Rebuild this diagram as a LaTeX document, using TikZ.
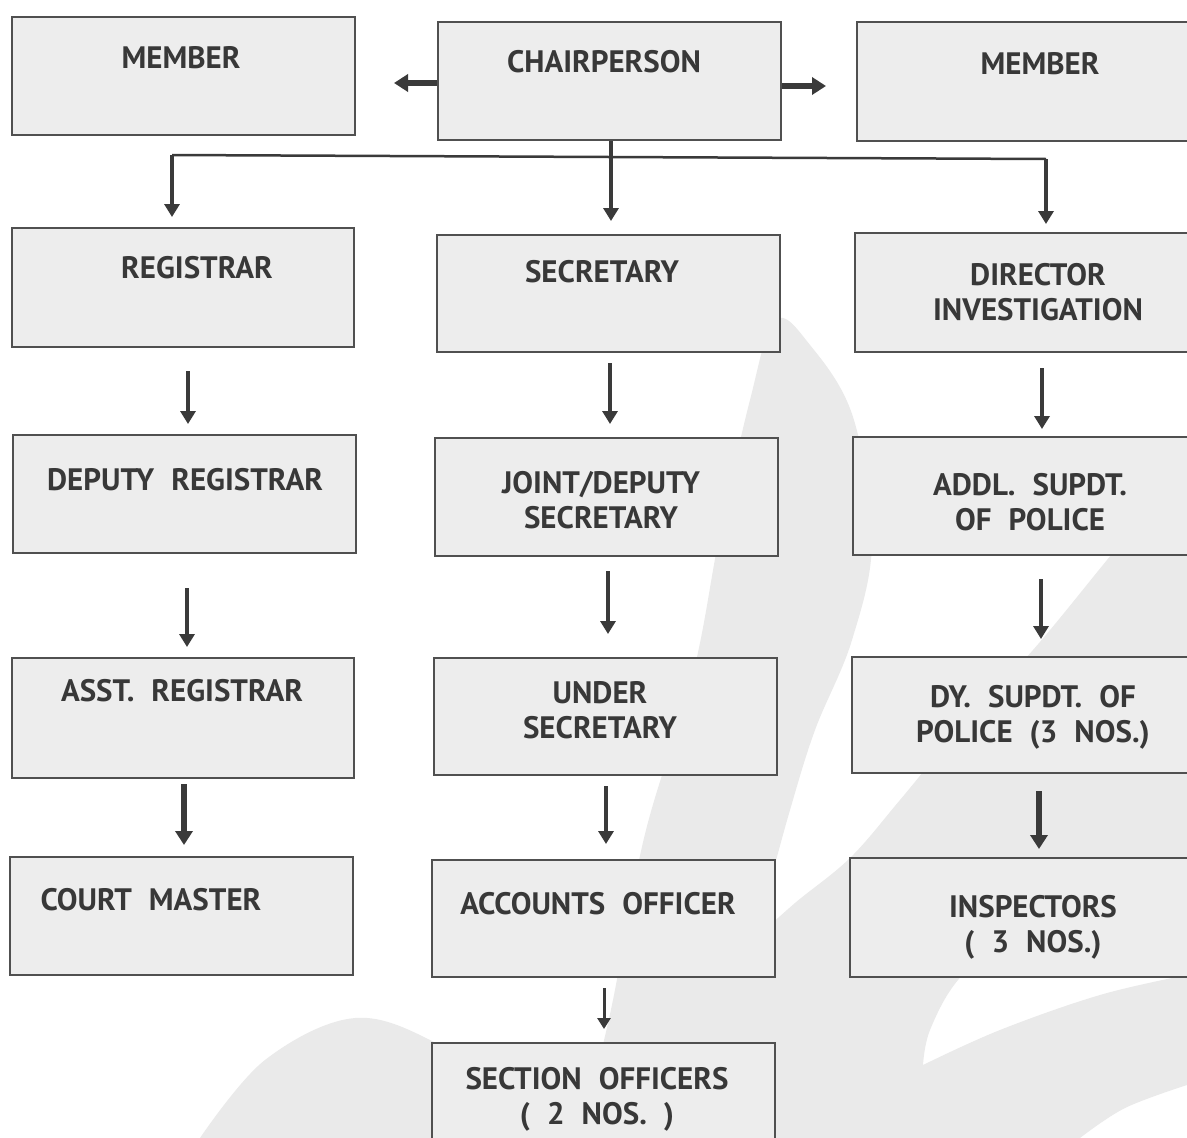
\documentclass[tikz,border=0pt]{standalone}
\usepackage{fontspec}
\setmainfont{PT Sans}
\usetikzlibrary{arrows.meta}
\definecolor{boxfill}{HTML}{EDEDED}
\definecolor{wmark}{HTML}{EAEAEA}
\definecolor{boxline}{HTML}{505050}
\definecolor{textcol}{HTML}{383838}
\definecolor{arrcol}{HTML}{3A3A3A}
\newcommand{\wsp}{\hspace{0.55em}}
\tikzset{
  box/.style={draw=boxline, fill=boxfill, line width=2pt, inner sep=0pt, rectangle},
  lbl/.style={text=textcol, font=\fontsize{31}{35}\selectfont\bfseries, inner sep=0pt, align=center},
  arr/.style={draw=arrcol, line width=4pt, -{Triangle[width=15pt,length=13pt]}},
  thickarr/.style={draw=arrcol, line width=5.5pt, -{Triangle[width=17pt,length=14pt]}},
  thinarr/.style={draw=arrcol, line width=3pt, -{Triangle[width=13pt,length=11pt]}},
  busline/.style={draw=arrcol, line width=2.5pt},
  wm/.style={fill=wmark}
}
\begin{document}
\begin{tikzpicture}[x=1pt,y=-1pt]
\useasboundingbox (0,0) rectangle (1187,1138);
\fill[white] (0,0) rectangle (1187,1138);
\clip (0,0) rectangle (1187,1138);
% watermark
\fill[wm] plot[smooth,tension=0.6] coordinates {(588,1138) (600,1060) (614,995) (645,834) (693,674) (720,533) (750,400) (775,320) (810,345) (853,417) (872,540) (852,640) (815,730) (790,810) (768,890) (754,940)}
  -- plot[smooth,tension=0.6] coordinates {(754,940) (795,903) (850,858) (900,800) (960,728) (1033,650) (1107,560) (1187,462)}
  -- (1187,880)
  -- plot[smooth,tension=0.6] coordinates {(1187,880) (1010,935) (958,980) (930,1030) (923,1065)}
  -- plot[smooth,tension=0.6] coordinates {(923,1065) (1000,1030) (1100,995) (1187,975)}
  -- (1187,1085)
  -- plot[smooth,tension=0.6] coordinates {(1187,1085) (1125,1108) (1080,1138)}
  -- (200,1138)
  -- plot[smooth,tension=0.6] coordinates {(200,1138) (265,1060) (355,1018) (440,1045) (520,1100)}
  -- cycle;
% boxes
\node[box, minimum width=343pt, minimum height=118pt] (memL) at (183.5,76) {};
\node[box, minimum width=343pt, minimum height=118pt] (chair) at (609.5,81) {};
\node[box, minimum width=338pt, minimum height=119pt] (memR) at (1026,81.5) {};
\node[box, minimum width=342pt, minimum height=119pt] (reg) at (183,287.5) {};
\node[box, minimum width=343pt, minimum height=117pt] (sec) at (608.5,293.5) {};
\node[box, minimum width=340pt, minimum height=119pt] (dir) at (1025,292.5) {};
\node[box, minimum width=343pt, minimum height=118pt] (dep) at (184.5,494) {};
\node[box, minimum width=343pt, minimum height=118pt] (joint) at (606.5,497) {};
\node[box, minimum width=342pt, minimum height=118pt] (addl) at (1024,496) {};
\node[box, minimum width=342pt, minimum height=120pt] (asst) at (183,718) {};
\node[box, minimum width=343pt, minimum height=117pt] (under) at (605.5,716.5) {};
\node[box, minimum width=343pt, minimum height=116pt] (dy) at (1023.5,715) {};
\node[box, minimum width=343pt, minimum height=118pt] (court) at (181.5,916) {};
\node[box, minimum width=343pt, minimum height=117pt] (acc) at (603.5,918.5) {};
\node[box, minimum width=345pt, minimum height=119pt] (insp) at (1022.5,917.5) {};
\node[box, minimum width=343pt, minimum height=104pt] (sect) at (603.5,1095) {};
% texts
\node[lbl, anchor=base] (tmemL) at (181,68) {MEMBER};
\node[lbl, anchor=base] (tchair) at (604,72) {CHAIRPERSON};
\node[lbl, anchor=base] (tmemR) at (1040,74) {MEMBER};
\node[lbl, anchor=base] (treg) at (197,278) {REGISTRAR};
\node[lbl, anchor=base] (tsec) at (602,282) {SECRETARY};
\node[lbl] (tdir) at (1038,292.5) {DIRECTOR\\INVESTIGATION};
\node[lbl, anchor=base] (tdep) at (185,490) {DEPUTY\wsp REGISTRAR};
\node[lbl] (tjoint) at (601,500.5) {JOINT/DEPUTY\\SECRETARY};
\node[lbl] (taddl) at (1030,502.5) {ADDL.\wsp SUPDT.\\OF\wsp POLICE};
\node[lbl, anchor=base] (tasst) at (182,701) {ASST.\wsp REGISTRAR};
\node[lbl] (tunder) at (600,710.5) {UNDER\\SECRETARY};
\node[lbl] (tdy) at (1033,717) {DY.\wsp SUPDT.\wsp OF\\POLICE\wsp (3\wsp NOS.)};
\node[lbl, anchor=base] (tcourt) at (151,910) {COURT\wsp MASTER};
\node[lbl, anchor=base] (tacc) at (598,914) {ACCOUNTS\wsp OFFICER};
\node[lbl] (tinsp) at (1033,927.5) {INSPECTORS\\(\wsp 3\wsp NOS.)};
\node[lbl] (tsect) at (597,1099) {SECTION\wsp OFFICERS\\(\wsp 2\wsp NOS.\wsp )};
% side arrows
\draw[thickarr] ([shift={(0,2)}]chair.west) -- ([shift={(38,7)}]memL.east);
\draw[thickarr] ([shift={(0,5)}]chair.east) -- ([shift={(-30,4.5)}]memR.west);
% bus
\coordinate (busL) at (172,155);
\coordinate (busR) at (1046,159);
\draw[busline] (busL) -- (busR);
\draw[arr] (busL) -- ([shift={(-11,-10)}]reg.north);
\draw[arr] ([xshift=1.5pt]chair.south) -- ([shift={(2.5,-13)}]sec.north);
\draw[arr] (busR) -- ([shift={(21,-8)}]dir.north);
% column 1
\draw[arr] ([shift={(5,23)}]reg.south) -- ([shift={(3.5,-10)}]dep.north);
\draw[arr] ([shift={(2.5,34)}]dep.south) -- ([shift={(4,-10)}]asst.north);
\draw[thickarr] ([shift={(1,5)}]asst.south) -- ([shift={(2.5,-11)}]court.north);
% column 2
\draw[arr] ([shift={(1.5,10)}]sec.south) -- ([shift={(3.5,-13)}]joint.north);
\draw[arr] ([shift={(1.5,14)}]joint.south) -- ([shift={(2.5,-23)}]under.north);
\draw[arr] ([shift={(0.5,10)}]under.south) -- ([shift={(2.5,-15)}]acc.north);
\draw[thinarr] ([shift={(0.5,10)}]acc.south) -- ([shift={(0.5,-13)}]sect.north);
% column 3
\draw[arr] ([shift={(17,15)}]dir.south) -- ([shift={(18,-7)}]addl.north);
\draw[arr] ([shift={(17,23)}]addl.south) -- ([shift={(17.5,-17)}]dy.north);
\draw[thickarr] ([shift={(15.5,17)}]dy.south) -- ([shift={(16.5,-8)}]insp.north);
\end{tikzpicture}
\end{document}
